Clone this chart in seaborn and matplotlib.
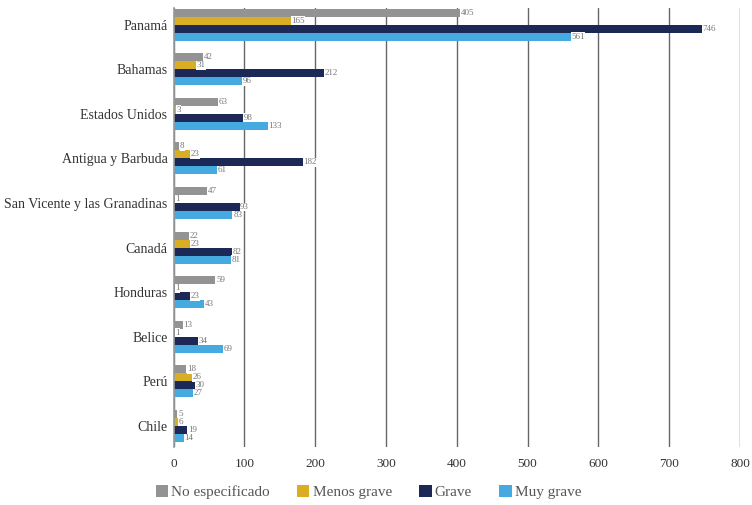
import matplotlib
matplotlib.use("Agg")
import matplotlib.pyplot as plt
import seaborn as sns
import pandas as pd
from matplotlib.patches import Patch

countries = ["Panamá", "Bahamas", "Estados Unidos", "Antigua y Barbuda",
             "San Vicente y las Granadinas", "Canadá", "Honduras", "Belice",
             "Perú", "Chile"]
series = ["No especificado", "Menos grave", "Grave", "Muy grave"]
no_especificado = [405, 42, 63, 8, 47, 22, 59, 13, 18, 5]
menos_grave = [165, 31, 3, 23, 1, 23, 1, 1, 26, 6]
grave = [746, 212, 98, 182, 93, 82, 23, 34, 30, 19]
muy_grave = [561, 96, 133, 61, 83, 81, 43, 69, 27, 14]
colors = ["#939393", "#D9AE22", "#1C2957", "#45AAE0"]

rows = []
for s, vals in zip(series, [no_especificado, menos_grave, grave, muy_grave]):
    for c, v in zip(countries, vals):
        rows.append({"País": c, "Serie": s, "Valor": v})
df = pd.DataFrame(rows)

sns.set_theme(style="white")
plt.rcParams["font.family"] = ["Liberation Serif"]

fig = plt.figure(figsize=(7.52, 5.05), dpi=100)
ax = fig.add_axes([0.231, 0.115, 0.753, 0.869])

sns.barplot(data=df, y="País", x="Valor", hue="Serie", order=countries,
            hue_order=series, palette=colors, orient="h", width=0.72,
            saturation=1, ax=ax, legend=False, errorbar=None, linewidth=0)

for cont in ax.containers:
    for bar in cont:
        w = bar.get_width()
        ax.text(w + 1, bar.get_y() + bar.get_height() / 2, f"{int(w)}",
                va="center", ha="left", fontsize=6.5, color="#777777",
                bbox=dict(boxstyle="square,pad=0.05", fc="white", ec="none"))

ax.set_xlim(0, 800)
ax.set_ylim(9.47, -0.37)
ax.set_xticks(range(0, 801, 100))
ax.xaxis.grid(True, color="#666666", linewidth=1.0)
ax.set_axisbelow(True)
for sp in ["top", "right", "bottom"]:
    ax.spines[sp].set_visible(False)
ax.spines["left"].set_color("#999999")
ax.spines["left"].set_linewidth(1.2)
ax.set_xlabel("")
ax.set_ylabel("")
ax.tick_params(axis="x", length=0, pad=8, labelsize=9.5, labelcolor="#333333")
ax.tick_params(axis="y", length=0, pad=4.5, labelsize=10, labelcolor="#333333")

handles = [Patch(facecolor=c, edgecolor="none") for c in colors]
leg = fig.legend(handles, series, loc="center", bbox_to_anchor=(0.49, 0.025),
                 ncol=4, frameon=False, handlelength=0.8, handleheight=0.8,
                 handletextpad=0.2, columnspacing=1.8,
                 prop={"family": "Liberation Serif", "size": 11})
for t in leg.get_texts():
    t.set_color("#555555")

fig.savefig("out.png", dpi=100)
